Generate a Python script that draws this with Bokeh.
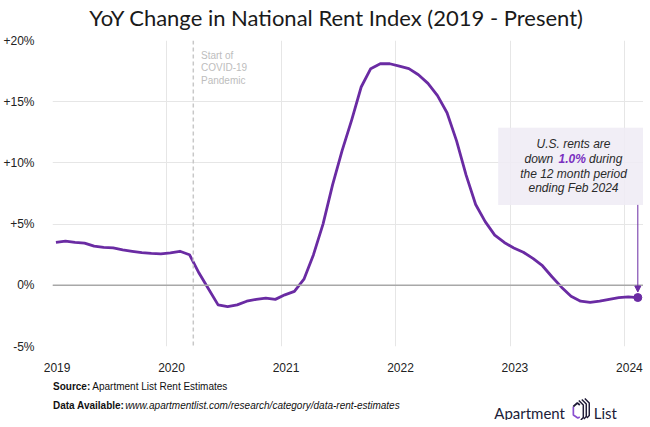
from bokeh.plotting import figure
from bokeh.layouts import column
from bokeh.models import (Label, Span, BoxAnnotation, Arrow, NormalHead,
                          FixedTicker, ColumnDataSource, Range1d, CustomJSTickFormatter)
from bokeh.core.properties import value
from bokeh.embed import file_html
from bokeh.resources import INLINE

# ---------------- data ----------------
years = [2019] * 12 + [2020] * 12 + [2021] * 12 + [2022] * 12 + [2023] * 12 + [2024] * 2
month_num = list(range(1, 13)) * 5 + [1, 2]
yoy = [
    3.50, 3.60, 3.50, 3.45, 3.20, 3.10, 3.05, 2.90, 2.78, 2.67, 2.60, 2.57,   # 2019
    2.65, 2.78, 2.50, 1.00, -0.30, -1.60, -1.75, -1.60, -1.30, -1.15, -1.05, -1.15,  # 2020
    -0.78, -0.50, 0.50, 2.50, 5.00, 8.20, 11.00, 13.50, 16.20, 17.70, 18.10, 18.10,  # 2021
    17.90, 17.70, 17.20, 16.50, 15.50, 14.10, 11.80, 9.00, 6.60, 5.20, 4.10, 3.50,  # 2022
    3.05, 2.70, 2.20, 1.60, 0.70, -0.15, -0.90, -1.30, -1.40, -1.30, -1.15, -1.00,  # 2023
    -0.95, -1.00,  # 2024
]
y_ticks = [-5, 0, 5, 10, 15, 20]
y_tick_labels = ["-5%", "0%", "+5%", "+10%", "+15%", "+20%"]
x_years = [2019, 2020, 2021, 2022, 2023, 2024]
x_tick_labels = ["2019", "2020", "2021", "2022", "2023", "2024"]
covid_start = 2020.23
covid_text = ["Start of", "COVID-19", "Pandemic"]
title_text = "YoY Change in National Rent Index (2019 - Present)"

# decimal-year position of each monthly observation (plotted ~11th of month)
x = [yr + (m - 1) / 12 + 0.03 for yr, m in zip(years, month_num)]
src = ColumnDataSource(dict(x=x, y=yoy))

PURPLE = "#6a2ba3"
W = 643
FL, FB = 49, 349          # frame left / bottom in page pixels
HH = 32                   # header height

# ---------------- header (title) ----------------
h = figure(width=W, height=HH, output_backend="svg", toolbar_location=None,
           x_range=Range1d(FL, W), y_range=Range1d(HH, 0),
           x_axis_location=None, y_axis_location=None,
           min_border_left=FL, min_border_right=0, min_border_top=0, min_border_bottom=0)
h.outline_line_color = None
h.grid.visible = False
h.text([334.5], [17], text=[title_text], text_font=value("Lato"), text_font_size="22px",
       text_color="#1a1a1a", text_align="center", text_baseline="middle")

# ---------------- main chart ----------------
p = figure(width=W, height=374 - HH, output_backend="svg", toolbar_location=None,
           x_range=(2019.0, 2024.163), y_range=(-5, 20),
           min_border_left=FL, min_border_right=0, min_border_top=40 - HH,
           min_border_bottom=25)
p.outline_line_color = None

for ax in (p.xaxis[0], p.yaxis[0]):
    ax.axis_line_color = None
    ax.major_tick_line_color = None
    ax.minor_tick_line_color = None
    ax.major_label_text_font = "Liberation Sans"
    ax.major_label_text_font_size = "12px"
    ax.major_label_text_color = "#222222"
# year labels sit slightly right of the year gridlines, as in the original
p.xaxis.ticker = FixedTicker(ticks=[yr + 0.04 for yr in x_years])
p.xaxis.formatter = CustomJSTickFormatter(args=dict(labels=x_tick_labels),
                                          code="return labels[index];")
p.yaxis.ticker = FixedTicker(ticks=y_ticks)
p.yaxis.major_label_overrides = dict(zip(y_ticks, y_tick_labels))
p.xaxis.major_label_standoff = 10
p.yaxis.major_label_standoff = 12

p.xgrid.ticker = FixedTicker(ticks=x_years)
p.ygrid.ticker = FixedTicker(ticks=y_ticks)
p.xgrid.grid_line_color = "#e6e6e6"
p.ygrid.grid_line_color = "#e6e6e6"

p.add_layout(Span(location=0, dimension="width", line_color="#a8a8a8", line_width=1.6))
p.add_layout(Span(location=covid_start, dimension="height", line_color="#c8c8c8",
                  line_width=1.5, line_dash="4 3"))

p.line("x", "y", source=src, line_color=PURPLE, line_width=2.8, line_join="round")

def sx(px):
    return px - FL
def sy(py):
    return FB - py

for i, t in enumerate(covid_text):
    p.add_layout(Label(x=sx(197.5), y=sy(58 + 12.4 * i), x_units="screen", y_units="screen",
                       text=t, text_font="Liberation Sans", text_font_size="10px",
                       text_color="#bdbdbd", text_baseline="middle", text_align="left"))

p.add_layout(BoxAnnotation(left=2022.893, right=2024.163, top=12.88, bottom=6.57,
                           fill_color="#eeebf5", fill_alpha=0.85, line_color=None))
box_lines = [("U.S. rents are", 146), ("the 12 month period", 176), ("ending Feb 2024", 190.5)]
for t, py in box_lines:
    p.add_layout(Label(x=sx(570), y=sy(py), x_units="screen", y_units="screen", text=t,
                       text_font="Liberation Sans", text_font_style="italic",
                       text_font_size="12px", text_color="#2a2a2a",
                       text_align="center", text_baseline="middle"))
for t, px, style, col in [("down", 521, "italic", "#2a2a2a"),
                          ("1.0%", 555, "bold italic", "#7a2fc0"),
                          ("during", 585.5, "italic", "#2a2a2a")]:
    p.add_layout(Label(x=sx(px), y=sy(161.5), x_units="screen", y_units="screen", text=t,
                       text_font="Liberation Sans", text_font_style=style,
                       text_font_size="12px", text_color=col,
                       text_align="left", text_baseline="middle"))

p.add_layout(Arrow(x_start=x[-1], y_start=6.57, x_end=x[-1], y_end=yoy[-1] + 0.45,
                   line_color=PURPLE, line_width=1,
                   end=NormalHead(size=6, fill_color=PURPLE, line_color=PURPLE)))
p.scatter([x[-1]], [yoy[-1]], size=8, color=PURPLE)

# ---------------- footer ----------------
FT, FH = 374, 46
f = figure(width=W, height=FH, output_backend="svg", toolbar_location=None,
           x_range=Range1d(FL, W), y_range=Range1d(FT + FH, FT),
           x_axis_location=None, y_axis_location=None,
           min_border_left=FL, min_border_right=0, min_border_top=0, min_border_bottom=0)
f.outline_line_color = None
f.grid.visible = False

def ftext(t, px, py, style="normal", size="10px", font="Liberation Sans", color="#111111"):
    f.text([px], [py], text=[t], text_font=value(font), text_font_style=style,
           text_font_size=size, text_color=color, text_align="left",
           text_baseline="middle")

ftext("Source:", 49.5, 386, "bold")
ftext("Apartment List Rent Estimates", 89, 386)
ftext("Data Available:", 49.5, 405, "bold")
ftext("www.apartmentlist.com/research/category/data-rent-estimates", 122, 405, "italic")
ftext("Apartment", 493, 412, size="15px", font="Lato", color="#201c38")
ftext("List", 593, 412, size="15px", font="Lato", color="#201c38")

f.multi_line(xs=[[572.5, 572.5, 577, 579], [572.5, 576.5, 579]],
             ys=[[406, 414.5, 417.5, 416.5], [406, 402.5, 404.5]],
             line_color=["#8a4fd0", "#201c38"], line_width=1.7)
f.multi_line(xs=[[578, 582.5, 582.5, 580], [581, 585.5, 585.5, 583], [584, 588.5, 588.5, 586]],
             ys=[[400, 404.5, 417, 419.5], [399, 403.5, 416, 418.5], [398, 402.5, 415, 417.5]],
             line_color="#201c38", line_width=1.5)

layout = column(h, p, f, spacing=0)
open("out.html", "w").write(file_html(layout, INLINE))
